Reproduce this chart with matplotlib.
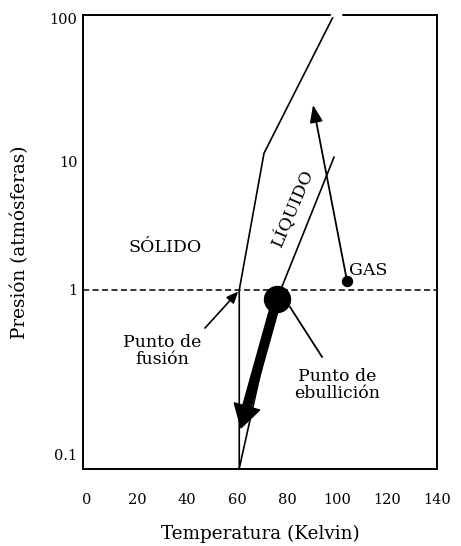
# -*- coding: utf-8 -*-

'''
Diagrama de fases (nitrógeno) - presión vs temperatura
'''

import numpy as np
import matplotlib
matplotlib.use('Agg')
import matplotlib.pyplot as plt
from matplotlib.ticker import FixedLocator, NullLocator, FixedFormatter
from matplotlib.patches import FancyArrowPatch

# curva sólido-líquido (sube) y bajada vertical hasta el fondo
T_FUSION = [98.8, 70.8, 60.9, 60.9]
P_FUSION = [105.0, 11.5, 1.0, 0.083]

# curva líquido-gas
T_EBULL = [60.9, 76.0, 98.8]
P_EBULL = [0.083, 0.882, 10.8]

# puntos
T_PUNTO_EB, P_PUNTO_EB = 76.0, 0.882
T_GAS, P_GAS = 104.0, 1.176

# flechas
T_FLECHA_GAS, P_FLECHA_GAS = 90.4, 24.9
T_FLECHA_LIQ, P_FLECHA_LIQ = 61.6, 0.146
T_FUS_DESDE, P_FUS_DESDE = 47.2, 0.588
T_FUS_HASTA, P_FUS_HASTA = 60.5, 0.98
T_EB_DESDE, P_EB_DESDE = 81.2, 0.789
T_EB_HASTA, P_EB_HASTA = 94.0, 0.393

# hueco en el borde superior donde cruza la curva
T_HUECO = [98.0, 101.2]

P_ATM = 1.0
X_TICKS = [0, 20, 40, 60, 80, 100, 120, 140]
Y_TICKS = [0.1, 1, 10, 100]
Y_LABELS = ['0.1', '1', '10', '100']

# escala log "a mano": las décadas del original no son iguales
LOG_KNOTS = [-2, -1, 0, 1, 2, 3]
POS_KNOTS = [-151, 14, 179, 307, 451, 595]


def forward(p):
    p = np.clip(np.asarray(p, dtype=float), 1e-6, None)
    return np.interp(np.log10(p), LOG_KNOTS, POS_KNOTS)


def inverse(s):
    return 10 ** np.interp(np.asarray(s, dtype=float), POS_KNOTS, LOG_KNOTS)


def plota():
    plt.rcParams['font.family'] = 'DejaVu Serif'
    fig = plt.figure(figsize=(4.61, 5.46), dpi=100)
    ax = fig.add_axes([0.180, 0.141, 0.768, 0.8315])
    ax.set_yscale('function', functions=(forward, inverse))
    ax.set_xlim(-1.6, 140)
    ax.set_ylim(0.0822, 104.9)

    ax.plot(T_FUSION, P_FUSION, color='black', lw=1.2)
    ax.plot(T_EBULL, P_EBULL, color='black', lw=1.2)
    ax.axhline(P_ATM, color='black', lw=1.1, ls=(0, (4, 2.2)))
    ax.plot(T_HUECO, [104.9, 104.9], color='white', lw=2.5,
            clip_on=False, zorder=4)

    # flecha gruesa desde el punto de ebullición
    ax.add_patch(FancyArrowPatch((T_PUNTO_EB, P_PUNTO_EB),
                                 (T_FLECHA_LIQ, P_FLECHA_LIQ),
                                 arrowstyle='simple,head_length=16,'
                                            'head_width=19,tail_width=6.2',
                                 mutation_scale=1, color='black',
                                 shrinkA=0, shrinkB=0, zorder=3))
    ax.plot(T_PUNTO_EB, P_PUNTO_EB, 'o', color='black', ms=18.7, zorder=4)

    # gas -> flecha hacia arriba
    ax.annotate('', xy=(T_FLECHA_GAS, P_FLECHA_GAS), xytext=(T_GAS, P_GAS),
                arrowprops=dict(arrowstyle='-|>,head_length=0.8,head_width=0.3',
                                mutation_scale=13, color='black', lw=1.3,
                                shrinkA=0, shrinkB=0))
    ax.plot(T_GAS, P_GAS, 'o', color='black', ms=7.2, zorder=4)

    # punto de fusión
    ax.annotate('', xy=(T_FUS_HASTA, P_FUS_HASTA),
                xytext=(T_FUS_DESDE, P_FUS_DESDE),
                arrowprops=dict(arrowstyle='-|>,head_length=0.7,head_width=0.3',
                                mutation_scale=10, color='black', lw=1.2,
                                shrinkA=0, shrinkB=0))
    ax.plot([T_EB_DESDE, T_EB_HASTA], [P_EB_DESDE, P_EB_HASTA],
            color='black', lw=1.3)

    ax.text(31.2, 2.13, 'SÓLIDO', fontsize=12.5, ha='center', va='center')
    ax.text(112.4, 1.41, 'GAS', fontsize=12.5, ha='center', va='center')
    ax.text(82.4, 4.37, 'LÍQUIDO', fontsize=12.5, ha='center', va='center',
            rotation=67)
    ax.text(30.0, 0.427, 'Punto de\nfusión', fontsize=12.5, ha='center',
            va='center', linespacing=0.95)
    ax.text(100.0, 0.266, 'Punto de\nebullición', fontsize=12.5,
            ha='center', va='center', linespacing=0.95)

    ax.set_xticks(X_TICKS)
    ax.yaxis.set_major_locator(FixedLocator(Y_TICKS))
    ax.yaxis.set_major_formatter(FixedFormatter(Y_LABELS))
    ax.yaxis.set_minor_locator(NullLocator())
    ax.tick_params(axis='x', length=0, pad=17, labelsize=10.5)
    ax.tick_params(axis='y', length=0, pad=4, labelsize=10.5)
    ax.set_xlabel('Temperatura (Kelvin)', fontsize=13.2, labelpad=13)
    ax.set_ylabel('Presión (atmósferas)', fontsize=13.2, labelpad=15)
    for spine in ax.spines.values():
        spine.set_linewidth(1.4)

    fig.savefig('out.png', dpi=100)


if __name__ == '__main__':
    plota()
